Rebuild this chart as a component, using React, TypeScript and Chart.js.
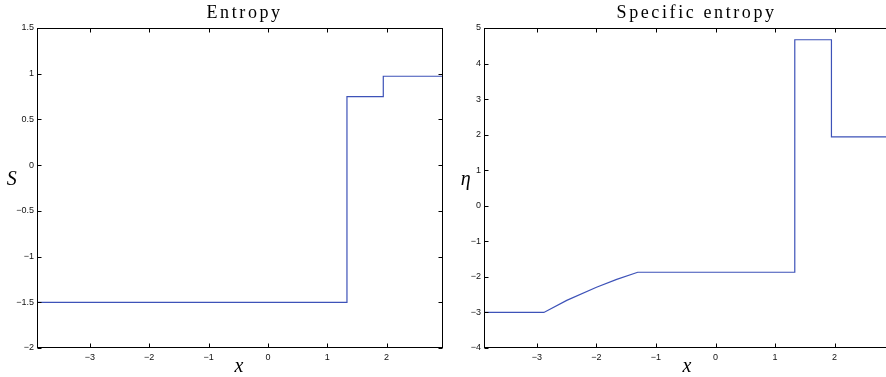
import React, { useEffect, useRef } from 'react';
import { Chart, registerables } from 'chart.js';

Chart.register(...registerables);

// ---- data ----
const entropyX = [-3.89, 1.332, 1.332, 1.944, 1.944, 2.95];
const entropyS = [-1.5, -1.5, 0.75, 0.75, 0.972, 0.972];

const specX = [-3.89, -2.884, -2.5, -2.0, -1.66, -1.307, 1.332, 1.332, 1.948, 1.948, 3.1];
const specEta = [-3, -3, -2.66, -2.29, -2.07, -1.87, -1.87, 4.67, 4.67, 1.94, 1.94];

const xTickValues = [-3, -2, -1, 0, 1, 2];
const entropyYTicks = [-2, -1.5, -1, -0.5, 0, 0.5, 1, 1.5];
const specYTicks = [-4, -3, -2, -1, 0, 1, 2, 3, 4, 5];

const entropyXRange = [-3.89, 2.95];
const specXRange = [-3.89, 3.1];
const entropyRange = [-2, 1.5];
const specRange = [-4, 5];

const titles = ['Entropy', 'Specific entropy'];
const yLabels = ['S', '\u03B7'];
const xLabel = 'x';

const LINE_COLOR = '#3d52b8';
const fmt = (v: number) => String(v).replace('-', '\u2212');

const decoPlugin = {
  id: 'deco',
  afterDraw(chart: any, _args: any, opts: any) {
    const { ctx, chartArea: ca, scales } = chart;
    const xs = scales.x;
    const ys = scales.y;
    ctx.save();
    ctx.strokeStyle = '#000';
    ctx.lineWidth = 1;
    const L = Math.round(ca.left) + 0.5;
    const R = Math.round(ca.right) - 0.5;
    const T = Math.round(ca.top) + 0.5;
    const B = Math.round(ca.bottom) - 0.5;
    ctx.strokeRect(L, T, R - L, B - T);
    ctx.beginPath();
    const tl = 4;
    xs.ticks.forEach((t: any) => {
      const p = Math.round(xs.getPixelForValue(t.value)) + 0.5;
      ctx.moveTo(p, B); ctx.lineTo(p, B - tl);
      ctx.moveTo(p, T); ctx.lineTo(p, T + tl);
    });
    ys.ticks.forEach((t: any) => {
      const p = Math.round(ys.getPixelForValue(t.value)) + 0.5;
      ctx.moveTo(L, p); ctx.lineTo(L + tl, p);
      ctx.moveTo(R, p); ctx.lineTo(R - tl, p);
    });
    ctx.stroke();

    ctx.fillStyle = '#000';
    const sp = opts.titleSpacing;
    ctx.font = '18px "Liberation Serif", serif';
    (ctx as any).letterSpacing = sp + 'px';
    ctx.textAlign = 'center';
    ctx.textBaseline = 'alphabetic';
    ctx.fillText(opts.title, opts.titleX + sp / 2, opts.titleY);
    (ctx as any).letterSpacing = '0px';

    ctx.font = 'italic 20px "Liberation Serif", serif';
    ctx.textAlign = 'center';
    ctx.textBaseline = 'alphabetic';
    ctx.fillText(opts.xLabel, opts.xLabelX, opts.xLabelY);
    ctx.textBaseline = 'middle';
    ctx.fillText(opts.yLabel, opts.yLabelX, opts.yLabelY);
    ctx.restore();
  },
};

type PanelProps = {
  xs: number[];
  ys: number[];
  xRange: number[];
  yTicks: number[];
  yRange: number[];
  title: string;
  yLabel: string;
  left: number;
  width: number;
  yAxisWidth: number;
  padRight: number;
  titleX: number;
  xLabelX: number;
  yLabelX: number;
};

function Panel(p: PanelProps) {
  const ref = useRef<HTMLCanvasElement | null>(null);
  useEffect(() => {
    if (!ref.current) return;
    const tickFont = { family: '"Liberation Sans", Arial, sans-serif', size: 9 };
    const chart = new Chart(ref.current, {
      type: 'scatter',
      data: {
        datasets: [
          {
            data: p.xs.map((x, i) => ({ x, y: p.ys[i] })),
            borderColor: LINE_COLOR,
            borderWidth: 1.2,
            pointRadius: 0,
            showLine: true,
            fill: false,
            tension: 0,
          },
        ],
      },
      options: {
        animation: false,
        responsive: false,
        maintainAspectRatio: false,
        layout: { padding: { top: 28, right: p.padRight, left: 0, bottom: 0 } },
        plugins: {
          legend: { display: false },
          tooltip: { enabled: false },
          deco: {
            title: p.title,
            titleX: p.titleX,
            titleY: 18,
            titleSpacing: 2.6,
            xLabel: xLabel,
            xLabelX: p.xLabelX,
            xLabelY: 372,
            yLabel: p.yLabel,
            yLabelX: p.yLabelX,
            yLabelY: 180,
          },
        } as any,
        scales: {
          x: {
            type: 'linear',
            min: p.xRange[0],
            max: p.xRange[1],
            grid: { display: false, drawTicks: false },
            border: { display: false },
            afterBuildTicks: (s: any) => {
              s.ticks = xTickValues.map((v) => ({ value: v }));
            },
            afterFit: (s: any) => {
              s.height = 29;
            },
            ticks: {
              padding: 4,
              font: tickFont,
              color: '#111',
              maxRotation: 0,
              autoSkip: false,
              callback: (v: any) => fmt(v),
            },
          },
          y: {
            type: 'linear',
            min: p.yRange[0],
            max: p.yRange[1],
            grid: { display: false, drawTicks: false },
            border: { display: false },
            afterBuildTicks: (s: any) => {
              s.ticks = p.yTicks.map((v) => ({ value: v }));
            },
            afterFit: (s: any) => {
              s.width = p.yAxisWidth;
            },
            ticks: {
              padding: 3,
              font: tickFont,
              color: '#111',
              autoSkip: false,
              callback: (v: any) => fmt(v),
            },
          },
        },
      } as any,
      plugins: [decoPlugin as any],
    });
    return () => chart.destroy();
  }, []);
  return (
    <canvas
      ref={ref}
      width={p.width}
      height={377}
      style={{ position: 'absolute', left: p.left, top: 0, width: p.width, height: 377 }}
    />
  );
}

export default function App() {
  return (
    <div
      style={{
        position: 'absolute',
        left: 0,
        top: 0,
        width: 886,
        height: 377,
        overflow: 'hidden',
        background: '#fff',
      }}
    >
      <Panel
        xs={entropyX}
        ys={entropyS}
        xRange={entropyXRange}
        yTicks={entropyYTicks}
        yRange={entropyRange}
        title={titles[0]}
        yLabel={yLabels[0]}
        left={0}
        width={445}
        yAxisWidth={37}
        padRight={2}
        titleX={243.3}
        xLabelX={239}
        yLabelX={11.7}
      />
      <Panel
        xs={specX}
        ys={specEta}
        xRange={specXRange}
        yTicks={specYTicks}
        yRange={specRange}
        title={titles[1]}
        yLabel={yLabels[1]}
        left={445}
        width={460}
        yAxisWidth={39}
        padRight={5}
        titleX={250.3}
        xLabelX={242}
        yLabelX={20.7}
      />
    </div>
  );
}
